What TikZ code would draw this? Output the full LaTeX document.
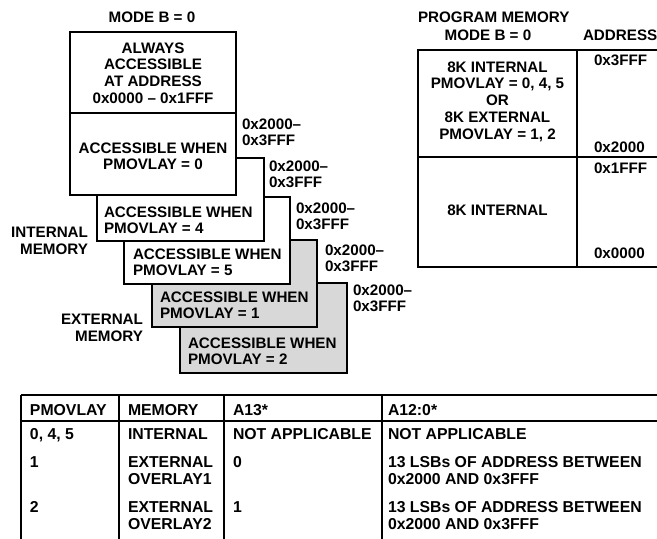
\documentclass[tikz,border=0pt]{standalone}
\usepackage{fontspec}
\setmainfont{Liberation Sans}
\definecolor{boxgray}{RGB}{216,216,216}
\tikzset{
  every node/.style={font=\bfseries\fontsize{15.2}{16.8}\selectfont, inner sep=0pt, outer sep=0pt},
  memb/.style={draw, line width=1.8pt, anchor=north west},
  rule/.style={line width=1.8pt},
  tl/.style={anchor=north west, align=left},
  tc/.style={anchor=north, align=center},
  tr/.style={anchor=north east, align=right},
  cell/.style={anchor=north west, align=left, font=\bfseries\fontsize{15.8}{17.6}\selectfont},
}
\begin{document}
\begin{tikzpicture}[x=1pt,y=-1pt]
\useasboundingbox (0,0) rectangle (657,539);
% ---------- left stacked memory map ----------
\node (modeL) at (152,17) {MODE B = 0};
\node[memb, fill=boxgray, minimum width=167pt, minimum height=90pt] (b2) at (180,283) {};
\node[memb, fill=boxgray, minimum width=165pt, minimum height=87pt] (b1) at (152,240) {};
\node[memb, fill=white, minimum width=166pt, minimum height=87pt] (b5) at (124,197) {};
\node[memb, fill=white, minimum width=167pt, minimum height=83pt] (b4) at (97,158) {};
\node[memb, fill=white, minimum width=166pt, minimum height=82pt] (b0) at (70,113) {};
\node[memb, fill=white, minimum width=166pt, minimum height=81pt] (btop) at (70,32) {};
\node[tc] (ttop) at (153,42.5) {ALWAYS\\ACCESSIBLE\\AT ADDRESS\\0x0000 – 0x1FFF};
\node[tc] (t0) at (153,142.5) {ACCESSIBLE WHEN\\PMOVLAY = 0};
\node[tl] (t4) at (104,206.5) {ACCESSIBLE WHEN\\PMOVLAY = 4};
\node[tl] (t5) at (133,248.5) {ACCESSIBLE WHEN\\PMOVLAY = 5};
\node[tl] (t1) at (160,291.5) {ACCESSIBLE WHEN\\PMOVLAY = 1};
\node[tl] (t2) at (188,337.5) {ACCESSIBLE WHEN\\PMOVLAY = 2};
\node[tl] (a0) at (242,118.5) {0x2000–\\0x3FFF};
\node[tl] (a4) at (269,160.5) {0x2000–\\0x3FFF};
\node[tl] (a5) at (296,202.5) {0x2000–\\0x3FFF};
\node[tl] (a1) at (325,244.5) {0x2000–\\0x3FFF};
\node[tl] (a2) at (353,284.5) {0x2000–\\0x3FFF};
\node[tr] (intm) at (88,227.5) {INTERNAL\\MEMORY};
\node[tr] (extm) at (143,314.5) {EXTERNAL\\MEMORY};
% ---------- right program memory map ----------
\node[anchor=west] (pm) at (418,17) {PROGRAM MEMORY};
\node (modeR) at (488,35) {MODE B = 0};
\node[anchor=west] (addr) at (583,35) {ADDRESS};
\node[memb, minimum width=246pt, minimum height=217pt] (pmbox) at (418,50) {};
\coordinate (divT) at (577,50);
\coordinate (divB) at (577,267);
\coordinate (midL) at (418,157);
\coordinate (midR) at (664,157);
\draw[rule] (divT) -- (divB);
\draw[rule] (midL) -- (midR);
\node[tc] (upper) at (497.5,61.5) {8K INTERNAL\\PMOVLAY = 0, 4, 5\\OR\\8K EXTERNAL\\PMOVLAY = 1, 2};
\node (lower) at (497.5,210) {8K INTERNAL};
\node[anchor=west] (ad3) at (594,60) {0x3FFF};
\node[anchor=west] (ad2) at (594,147) {0x2000};
\node[anchor=west] (ad1) at (594,168) {0x1FFF};
\node[anchor=west] (ad0) at (594,253) {0x0000};
% ---------- table ----------
\coordinate (tTL) at (21,395);
\coordinate (tTR) at (657,395);
\coordinate (hL) at (21,421);
\coordinate (hR) at (657,421);
\coordinate (v0t) at (21,395);  \coordinate (v0b) at (21,545);
\coordinate (v1t) at (119,395); \coordinate (v1b) at (119,545);
\coordinate (v2t) at (224,395); \coordinate (v2b) at (224,545);
\coordinate (v3t) at (382,395); \coordinate (v3b) at (382,545);
\draw[rule] (tTL) -- (tTR);
\draw[rule] (hL) -- (hR);
\draw[rule] (v0t) -- (v0b);
\draw[rule] (v1t) -- (v1b);
\draw[rule] (v2t) -- (v2b);
\draw[rule] (v3t) -- (v3b);
\node[cell] (h1) at (30,404.3) {PMOVLAY};
\node[cell] (h2) at (128,404.3) {MEMORY};
\node[cell] (h3) at (233,404.3) {A13*};
\node[cell] (h4) at (388,404.3) {A12:0*};
\node[cell] (r11) at (30,428.3) {0, 4, 5};
\node[cell] (r12) at (128,428.3) {INTERNAL};
\node[cell] (r13) at (233,428.3) {NOT APPLICABLE};
\node[cell] (r14) at (388,428.3) {NOT APPLICABLE};
\node[cell] (r21) at (30,456.3) {1};
\node[cell] (r22) at (128,456.3) {EXTERNAL\\OVERLAY1};
\node[cell] (r23) at (233,456.3) {0};
\node[cell] (r24) at (388,456.3) {13 LSBs OF ADDRESS BETWEEN\\0x2000 AND 0x3FFF};
\node[cell] (r31) at (30,501.3) {2};
\node[cell] (r32) at (128,501.3) {EXTERNAL\\OVERLAY2};
\node[cell] (r33) at (233,501.3) {1};
\node[cell] (r34) at (388,501.3) {13 LSBs OF ADDRESS BETWEEN\\0x2000 AND 0x3FFF};
\end{tikzpicture}
\end{document}
